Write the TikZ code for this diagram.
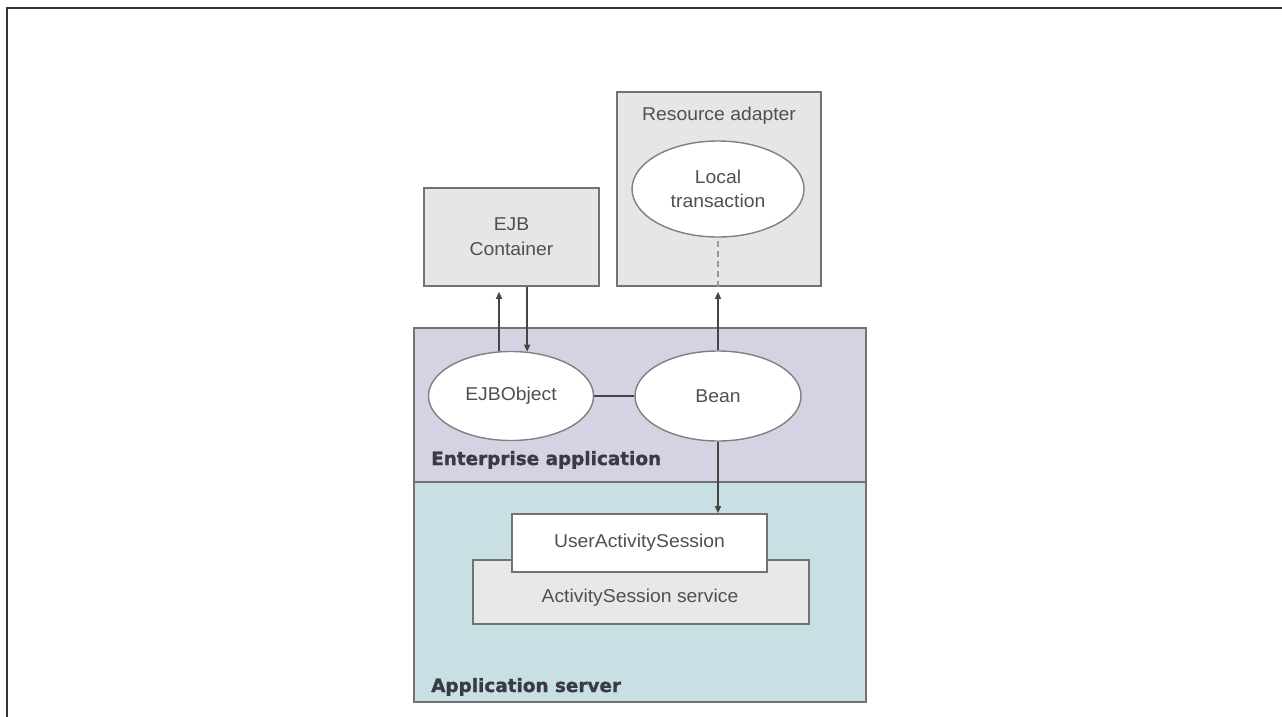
\documentclass[tikz,border=0pt]{standalone}
\usepackage{fontspec}
\setmainfont{Liberation Sans}[FakeStretch=1.04]
\newfontfamily\labfont{DejaVu Sans}[BoldFeatures={FakeBold=1.2}]
\usetikzlibrary{arrows.meta,shapes.geometric}
\definecolor{txt}{HTML}{505050}
\definecolor{btxt}{HTML}{3A3A44}
\definecolor{bord}{HTML}{727272}
\definecolor{ebord}{HTML}{808080}
\definecolor{gfill}{HTML}{E6E6E6}
\definecolor{sfill}{HTML}{E8E8E8}
\definecolor{entfill}{HTML}{D6D2E4}
\definecolor{appfill}{HTML}{C8E0E4}
\definecolor{arrc}{HTML}{454545}
\definecolor{framec}{HTML}{333333}
\begin{document}
\begin{tikzpicture}[x=1pt,y=-1pt,
  lbl/.style={font=\fontsize{18.6}{25}\selectfont, text=txt, inner sep=0pt},
  blbl/.style={font=\labfont\bfseries\fontsize{18.4}{22}\selectfont, text=btxt, inner sep=0pt, anchor=base west},
  gbox/.style={rectangle, draw=bord, line width=1.6pt, fill=gfill, inner sep=0pt, align=center},
  ell/.style={ellipse, draw=ebord, line width=1.4pt, fill=white, inner sep=0pt, align=center},
  arr/.style={draw=arrc, line width=1.4pt, -{Triangle[length=7pt,width=6pt]}},
  ln/.style={draw=arrc, line width=1.4pt},
  dsh/.style={draw=ebord!80, line width=1.4pt, dash pattern=on 6pt off 4pt}
]
\useasboundingbox (0,0) rectangle (1282,717);
% outer frame (top and left edges only)
\draw[line width=2pt, draw=framec] (7,717) -- (7,8.5) -- (1282,8.5);

% layers
\node[rectangle, draw=bord, line width=1.8pt, fill=appfill, minimum width=452pt, minimum height=220pt, inner sep=0pt] (app) at (640,592) {};
\node[rectangle, draw=bord, line width=1.8pt, fill=entfill, minimum width=452pt, minimum height=154pt, inner sep=0pt] (ent) at (640,405) {};
\node[blbl] (entl) at (431,465) {Enterprise application};
\node[blbl] (appl) at (431,692) {Application server};

% top boxes
\node[gbox, lbl, minimum width=175pt, minimum height=98pt] (ejbc) at (511.5,237) {EJB\\Container};
\node[gbox, minimum width=204pt, minimum height=194pt] (ra) at (719,189) {};
\node[lbl, anchor=base] (ral) at (719,120) {Resource adapter};
\node[ell, lbl, minimum width=172pt, minimum height=96pt] (lt) at (718,189) {Local\\[-1pt]transaction};

% ellipses in enterprise application
\node[ell, lbl, minimum width=165pt, minimum height=89pt] (ejbo) at (511,396) {EJBObject};
\node[ell, lbl, minimum width=166pt, minimum height=90pt] (bean) at (718,396) {Bean};

% application server boxes
\node[rectangle, draw=bord, line width=1.6pt, fill=sfill, minimum width=336pt, minimum height=64pt, inner sep=0pt] (asvc) at (641,592) {};
\node[lbl, anchor=base] (asvcl) at (640,602) {ActivitySession service};
\node[rectangle, draw=bord, line width=1.6pt, fill=white, minimum width=255pt, minimum height=58pt, inner sep=0pt, lbl] (uas) at (639.5,543) {UserActivitySession};

% connectors
\draw[arr, shorten >=5pt] (ejbo.105) -- (ejbo.105 |- ejbc.south);
\draw[arr] (ejbc.south -| ejbo.70) -- (ejbo.70);
\draw[ln] (ejbo.east) -- (bean.west);
\draw[arr, shorten >=5pt] (bean.north) -- (ra.south -| bean.north);
\draw[dsh] (ra.south -| lt.south) -- (lt.south);
\draw[arr] (bean.south) -- (uas.north -| bean.south);
\end{tikzpicture}
\end{document}
